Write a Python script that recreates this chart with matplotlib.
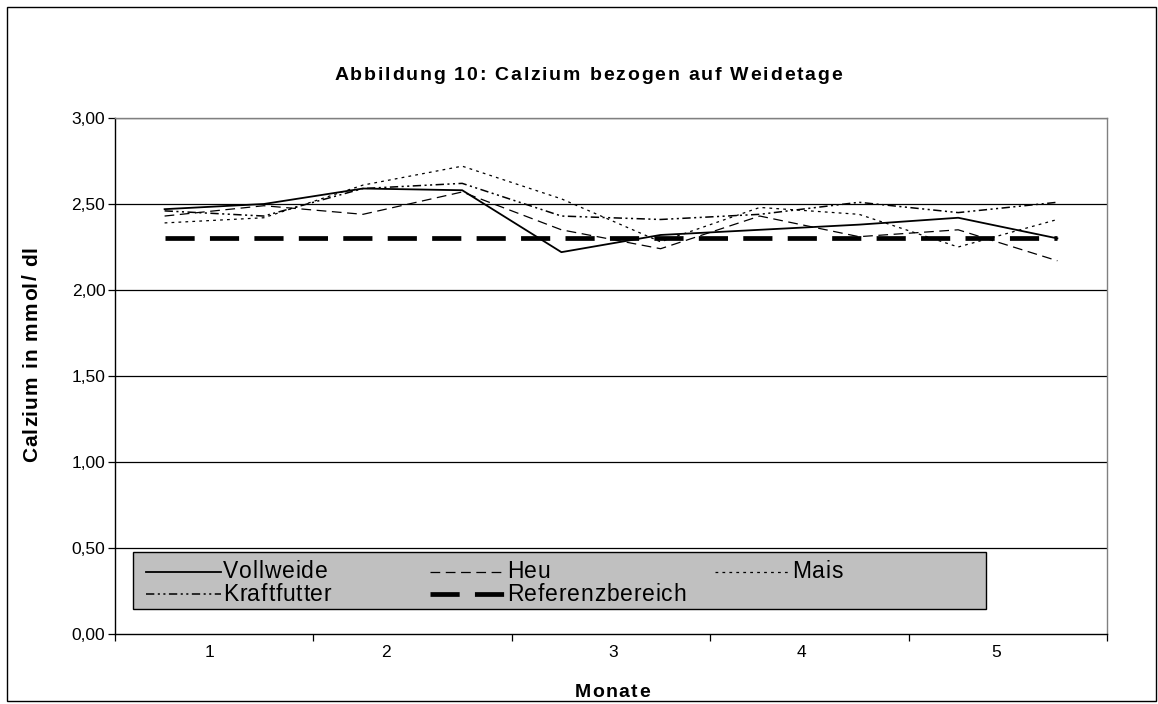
import matplotlib
matplotlib.use("Agg")
import matplotlib.pyplot as plt
from matplotlib.patches import Rectangle
from matplotlib.lines import Line2D
from matplotlib.font_manager import FontProperties, findfont
from matplotlib.ft2font import FT2Font

plt.rcParams['font.family'] = ['Liberation Sans', 'DejaVu Sans']
plt.rcParams['lines.scale_dashes'] = False

# Monate (Achsenbeschriftung) und Messzeitpunkte (zwei je Monat)
monate = ["1", "2", "3", "4", "5"]
messpunkte = list(range(10))

# Calcium-Mittelwerte in mmol/dl je Fütterungsgruppe
vollweide = [2.47, 2.50, 2.59, 2.58, 2.22, 2.32, 2.35, 2.38, 2.42, 2.30]
heu = [2.43, 2.49, 2.44, 2.57, 2.35, 2.24, 2.43, 2.31, 2.35, 2.17]
mais = [2.39, 2.42, 2.61, 2.72, 2.53, 2.28, 2.48, 2.44, 2.25, 2.41]
kraftfutter = [2.46, 2.43, 2.59, 2.62, 2.43, 2.41, 2.44, 2.51, 2.45, 2.51]
referenz = [2.30] * 10

y_ticks = [0.0, 0.5, 1.0, 1.5, 2.0, 2.5, 3.0]
y_labels = ["0,00", "0,50", "1,00", "1,50", "2,00", "2,50", "3,00"]

W, H = 1158, 704
DPI = 100
fig = plt.figure(figsize=(W / DPI, H / DPI), dpi=DPI)
fig.patch.set_facecolor("white")


def fx(x):
    return x / W


def fy(y):
    return 1 - y / H


def advances(s, size, weight):
    font = FT2Font(findfont(FontProperties(family="Liberation Sans", weight=weight)))
    font.set_size(size, DPI)
    return [font.load_char(ord(c)).linearHoriAdvance / 65536 for c in s]


def spaced_text(x, y, s, size, weight="normal", track=0.0, rotation=0, align="left", zorder=7):
    """Text mit zusätzlichem Zeichenabstand; x/y in Pixeln (Ursprung oben links), y = Grundlinie."""
    adv = advances(s, size, weight)
    total = sum(adv) + track * (len(s) - 1)
    start = -total / 2 if align == "center" else 0.0
    pos = start
    for c, a in zip(s, adv):
        if c != " ":
            if rotation == 90:
                px, py = x, y - pos
            else:
                px, py = x + pos, y
            fig.text(fx(px), fy(py), c, fontsize=size, fontweight=weight, zorder=zorder,
                     ha="left", va="baseline", rotation=rotation, rotation_mode="anchor")
        pos += a + track


# Rahmen um das gesamte Diagramm
fig.add_artist(Rectangle((fx(7), fy(701)), (1156 - 7) / W, (701 - 7) / H, transform=fig.transFigure,
                         fill=False, edgecolor="black", linewidth=1.0))

x0, x1 = 115, 1107
ytop, ybot = 118, 634
ax = fig.add_axes([fx(x0), fy(ybot), (x1 - x0) / W, (ybot - ytop) / H])

for v in y_ticks[1:]:
    ax.axhline(v, color="black", linewidth=0.9, zorder=1)

serien = [
    ("Vollweide", vollweide, dict(linewidth=1.3, linestyle="-")),
    ("Heu", heu, dict(linewidth=0.9, linestyle=(0, (7, 4)))),
    ("Mais", mais, dict(linewidth=0.9, linestyle=(0, (2, 3)))),
    ("Kraftfutter", kraftfutter, dict(linewidth=1.1, linestyle=(0, (6, 2.5, 1.5, 2.5, 1.5, 2.5)))),
    ("Referenzbereich", referenz, dict(linewidth=3.4, linestyle=(0, (21, 11)))),
]
for name, werte, stil in serien:
    ax.plot(messpunkte, werte, color="black", zorder=3, **stil)

ax.set_xlim(-0.5, len(messpunkte) - 0.5)
ax.set_ylim(0, 3)

# Monatsbeschriftung zwischen den Teilstrichen
label_pos = [0.45, 2.23, 4.52, 6.42, 8.38]
ax.set_xticks(label_pos)
ax.set_xticklabels(monate, fontsize=12.5)
ax.tick_params(axis="x", length=0, pad=8)
ax.set_xticks([2 * i - 0.5 for i in range(len(monate) + 1)], minor=True)
ax.tick_params(axis="x", which="minor", length=5, width=0.9, direction="out", color="black")

ax.set_yticks(y_ticks)
ax.set_yticklabels(y_labels, fontsize=12.5)
ax.tick_params(axis="y", length=5, width=0.9, direction="out", pad=2)

for side in ["left", "bottom"]:
    ax.spines[side].set_color("black")
    ax.spines[side].set_linewidth(1.0)
for side in ["top", "right"]:
    ax.spines[side].set_color("#808080")
    ax.spines[side].set_linewidth(1.0)

# Titel und Achsentitel
spaced_text(588, 80, "Abbildung 10: Calzium bezogen auf Weidetage", 14, "bold", track=1.8, align="center")
spaced_text(612, 697, "Monate", 14, "bold", track=1.4, align="center")
spaced_text(37, 462, "Calzium in mmol/ dl", 15, "bold", track=1.1, rotation=90)

# Legende
lx0, lx1, ly0, ly1 = 133, 986, 552, 609
fig.add_artist(Rectangle((fx(lx0), fy(ly1)), (lx1 - lx0) / W, (ly1 - ly0) / H,
                         transform=fig.transFigure, facecolor="#C0C0C0",
                         edgecolor="black", linewidth=1.0, zorder=5))
spalten = [146, 430, 715]
zeilen_linie = [572, 594]
zeilen_text = [578, 601]
anordnung = [(0, 0), (1, 0), (2, 0), (0, 1), (1, 1)]
for (name, _, stil), (sp, ze) in zip(serien, anordnung):
    hx = spalten[sp]
    fig.add_artist(Line2D([fx(hx), fx(hx + 75)], [fy(zeilen_linie[ze])] * 2,
                          transform=fig.transFigure, color="black", zorder=6, **stil))
    spaced_text(hx + 77, zeilen_text[ze], name, 16.5, "normal", track=0.8)

fig.savefig("out.png", dpi=DPI, facecolor="white")
